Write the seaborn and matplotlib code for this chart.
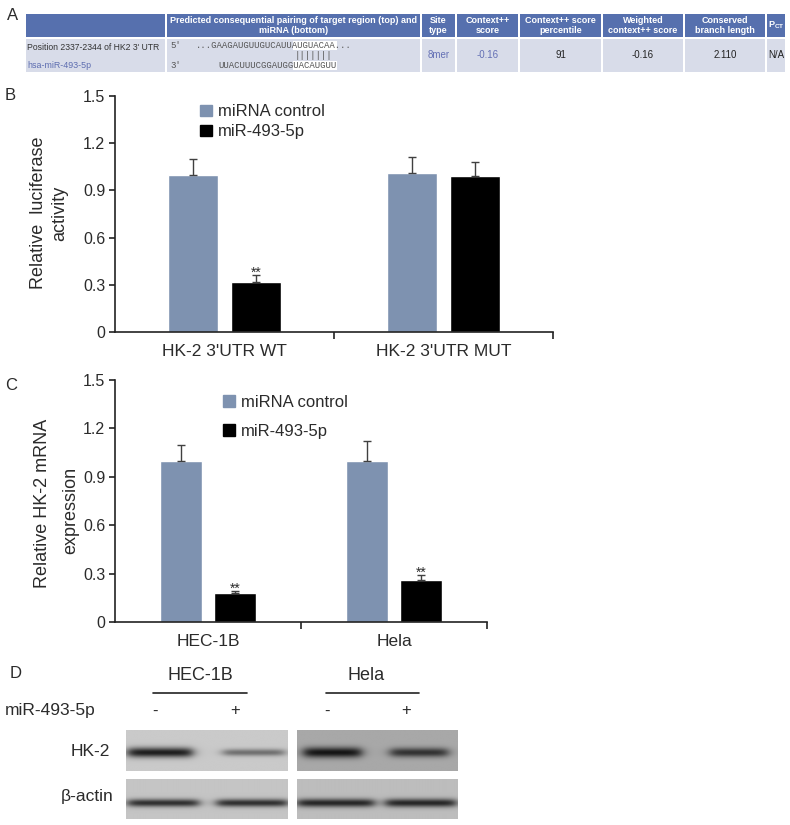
import numpy as np
import pandas as pd
import matplotlib
matplotlib.use('Agg')
import matplotlib.pyplot as plt
import seaborn as sns
from matplotlib.patches import Rectangle, Patch

# ---- data ----
# panel A (TargetScan table)
head_cols = ["", "Predicted consequential pairing of target region (top) and\nmiRNA (bottom)",
             "Site\ntype", "Context++\nscore", "Context++ score\npercentile",
             "Weighted\ncontext++ score", "Conserved\nbranch length", r"P$_\mathregular{CT}$"]
row_vals = ["", "", "8mer", "-0.16", "91", "-0.16", "2.110", "N/A"]
utr_label = "Position 2337-2344 of HK2 3' UTR"
mir_label = "hsa-miR-493-5p"
seq_top = "...GAAGAUGUUGUCAUUAUGUACAA..."
seq_pair = "|||||||"
seq_bot = "UUACUUUCGGAUGGUACAUGUU"

# panel B (luciferase)
groups_b = ["HK-2 3'UTR WT", "HK-2 3'UTR MUT"]
ctrl_b = [1.00, 1.01]
ctrl_b_err = [0.10, 0.10]
mir_b = [0.32, 0.99]
mir_b_err = [0.045, 0.09]
sig_b = ["**", ""]

# panel C (qPCR)
groups_c = ["HEC-1B", "Hela"]
ctrl_c = [1.00, 1.00]
ctrl_c_err = [0.10, 0.12]
mir_c = [0.18, 0.26]
mir_c_err = [0.01, 0.03]
sig_c = ["**", "**"]

hue_names = ["miRNA control", "miR-493-5p"]
yticks = [0, 0.3, 0.6, 0.9, 1.2, 1.5]
ytick_labels = ["0", "0.3", "0.6", "0.9", "1.2", "1.5"]

# panel D (western blot band intensities, - / +)
hk2_hec = [0.95, 0.50]
hk2_hela = [1.00, 0.80]
actin_hec = [0.85, 0.85]
actin_hela = [0.90, 0.90]

# ---- style ----
sns.set_style("ticks")
plt.rcParams['font.family'] = ['Liberation Sans', 'DejaVu Sans']
txt = '#2b2b2b'
ctrl_col = '#7E92B0'
pal = {hue_names[0]: ctrl_col, hue_names[1]: 'black'}

W, H = 790, 825
fig = plt.figure(figsize=(W / 100, H / 100), dpi=100)


def box(x0, y0, x1, y1):
    return [x0 / W, 1 - y1 / H, (x1 - x0) / W, (y1 - y0) / H]


def ftext(x, y, s, **kw):
    fig.text(x / W, 1 - y / H, s, **kw)


# ---- panel A: table ----
axa = fig.add_axes([0, 1 - 75 / H, 1, 75 / H])
axa.set_xlim(0, W)
axa.set_ylim(75, 0)
axa.set_axis_off()
edges = [26, 167, 422, 457, 520, 603, 685, 767, 787]
for i in range(len(head_cols)):
    x0, x1 = edges[i], edges[i + 1] - 2
    axa.add_patch(Rectangle((x0, 14), x1 - x0, 23, color='#5670AE', lw=0))
    axa.add_patch(Rectangle((x0, 39), x1 - x0, 33, color='#D8DCE9', lw=0))
    if head_cols[i]:
        axa.text((x0 + x1) / 2, 25.5, head_cols[i], ha='center', va='center',
                 color='white', fontsize=6.5, fontweight='bold', linespacing=1.1)
    if row_vals[i]:
        c = '#6470b5' if i in (2, 3) else '#222222'
        axa.text((x0 + x1) / 2, 55.5, row_vals[i], ha='center', va='center',
                 color=c, fontsize=7)
axa.text(27, 47, utr_label, ha='left', va='center', color='#333333', fontsize=6.2)
axa.text(27, 65.5, mir_label, ha='left', va='center', color='#5d6db0', fontsize=6.4)

# sequence pairing (monospace, 5.42 px per character)
cw = 5.42
x_top, x_bot = 196, 218
axa.add_patch(Rectangle((x_top + 18 * cw - 1, 41), 8 * cw + 1, 8.5, color='white', lw=0))
axa.add_patch(Rectangle((x_bot + 14 * cw - 1, 61), 8 * cw + 1, 8.5, color='white', lw=0))
mono = dict(ha='left', va='center', color='#555555', fontsize=6.5, family='Liberation Mono')
axa.text(170, 45.5, "5'", **mono)
axa.text(170, 65.5, "3'", **mono)
axa.text(x_top, 45.5, seq_top, **mono)
axa.text(x_top + 18.5 * cw - 2, 55.5, seq_pair, **mono)
axa.text(x_bot, 65.5, seq_bot, **mono)
ftext(7, 15, "A", ha='left', va='center', fontsize=12, color=txt)


# ---- panels B and C: bar charts ----
def bars(rect, groups, ctrl, ctrl_err, mir, mir_err, sig, leg_xy, leg_space):
    ax = fig.add_axes(rect)
    df = pd.DataFrame({
        'group': groups * 2,
        'value': ctrl + mir,
        'err': ctrl_err + mir_err,
        'treat': [hue_names[0]] * len(groups) + [hue_names[1]] * len(groups),
    })
    sns.barplot(data=df, x='group', y='value', hue='treat', order=groups,
                hue_order=hue_names, palette=pal, width=0.576, gap=0.22,
                saturation=1, errorbar=None, legend=False, ax=ax)
    for cont, h in zip(ax.containers, hue_names):
        sub = df[df['treat'] == h]
        xs = [b.get_x() + b.get_width() / 2 for b in cont]
        ys = sub['value'].values
        es = sub['err'].values
        ax.errorbar(xs, ys, yerr=[np.zeros_like(es), es], fmt='none',
                    ecolor='#404040', elinewidth=1, capsize=3, capthick=1)
        if h == hue_names[1]:
            for x, y, e, s in zip(xs, ys, es, sig):
                if s:
                    ax.text(x, y + e - 0.03, s, ha='center', va='bottom',
                            fontsize=10, color=txt)
    ax.set_xlim(-0.5, 1.5)
    ax.set_ylim(0, 1.5)
    ax.set_yticks(yticks)
    ax.set_yticklabels(ytick_labels)
    ax.set_xticks([0, 1])
    ax.set_xticklabels(groups)
    ax.set_xticks([0.5, 1.5], minor=True)
    ax.tick_params(axis='x', which='major', length=0, labelsize=12.5,
                   labelcolor=txt, pad=9)
    ax.tick_params(axis='x', which='minor', length=5, width=1.2, color='#222222',
                   direction='out')
    ax.tick_params(axis='y', length=4, width=1.2, color='#222222',
                   labelsize=11.5, labelcolor=txt, pad=3)
    ax.set_xlabel('')
    ax.set_ylabel('')
    sns.despine(ax=ax)
    for sp in ('left', 'bottom'):
        ax.spines[sp].set_linewidth(1.2)
        ax.spines[sp].set_color('#222222')
    handles = [Patch(color=pal[h]) for h in hue_names]
    ax.legend(handles, hue_names, loc='upper left', bbox_to_anchor=leg_xy,
              frameon=False, fontsize=12, handlelength=0.7, handleheight=0.7,
              handletextpad=0.4, labelspacing=leg_space, borderpad=0,
              borderaxespad=0, labelcolor=txt)
    return ax


bars(box(115, 96, 553, 332), groups_b, ctrl_b, ctrl_b_err, mir_b, mir_b_err,
     sig_b, (0.194, 0.965), 0.3)
ftext(5, 96, "B", ha='left', va='center', fontsize=12, color=txt)
ftext(39, 213, "Relative  luciferase", rotation=90, ha='center', va='center',
      fontsize=13, color=txt)
ftext(60, 213, "activity", rotation=90, ha='center', va='center',
      fontsize=13, color=txt)

bars(box(115, 380, 487, 622), groups_c, ctrl_c, ctrl_c_err, mir_c, mir_c_err,
     sig_c, (0.29, 0.94), 0.85)
ftext(5, 385, "C", ha='left', va='center', fontsize=12, color=txt)
ftext(43, 503, "Relative HK-2 mRNA", rotation=90, ha='center', va='center',
      fontsize=13, color=txt)
ftext(71, 510, "expression", rotation=90, ha='center', va='center',
      fontsize=13, color=txt)


# ---- panel D: western blot ----
def blot(rect, bg, lanes, intens, sig, yc):
    ax = fig.add_axes(rect)
    yy, xx = np.mgrid[0:1:80j, 0:1:320j]
    img = np.full(xx.shape, bg)
    for (c, w), a, s in zip(lanes, intens, sig):
        pxp = 1 / (1 + np.exp(-(xx - (c - w / 2)) / 0.02)) / (1 + np.exp((xx - (c + w / 2)) / 0.02))
        pyp = np.exp(-0.5 * ((yy - yc) / s) ** 2)
        img = img - (bg - 0.08) * a * pxp * pyp
    ax.imshow(img, cmap='gray', vmin=0, vmax=1, aspect='auto',
              extent=(0, 1, 1, 0), interpolation='bilinear')
    ax.set_axis_off()


blot(box(126, 730, 288, 771), 0.79, [(0.21, 0.40), (0.79, 0.38)], hk2_hec, [0.085, 0.06], 0.56)
blot(box(297, 730, 458, 771), 0.66, [(0.22, 0.36), (0.76, 0.36)], hk2_hela, [0.09, 0.08], 0.56)
blot(box(126, 779, 288, 819), 0.77, [(0.23, 0.44), (0.78, 0.44)], actin_hec, [0.07, 0.07], 0.60)
blot(box(297, 779, 458, 819), 0.74, [(0.24, 0.48), (0.77, 0.44)], actin_hela, [0.075, 0.075], 0.60)

ftext(10, 673, "D", ha='left', va='center', fontsize=12, color=txt)
ftext(200, 675, "HEC-1B", ha='center', va='center', fontsize=13, color=txt)
ftext(366, 675, "Hela", ha='center', va='center', fontsize=13, color=txt)
ax_l = fig.add_axes([0, 0, 1, 1])
ax_l.set_xlim(0, W)
ax_l.set_ylim(H, 0)
ax_l.set_axis_off()
ax_l.plot([153, 247], [693, 693], color='#222222', lw=1.2)
ax_l.plot([326, 419], [693, 693], color='#222222', lw=1.2)
ftext(5, 711, "miR-493-5p", ha='left', va='center', fontsize=12.5, color=txt)
for x, s in zip([155, 235, 327, 406], ['-', '+', '-', '+']):
    ftext(x, 711, s, ha='center', va='center', fontsize=12, color=txt)
ftext(110, 751, "HK-2", ha='right', va='center', fontsize=12.5, color=txt)
ftext(113, 797, "β-actin", ha='right', va='center', fontsize=12.5, color=txt)

fig.savefig('out.png', dpi=100)
